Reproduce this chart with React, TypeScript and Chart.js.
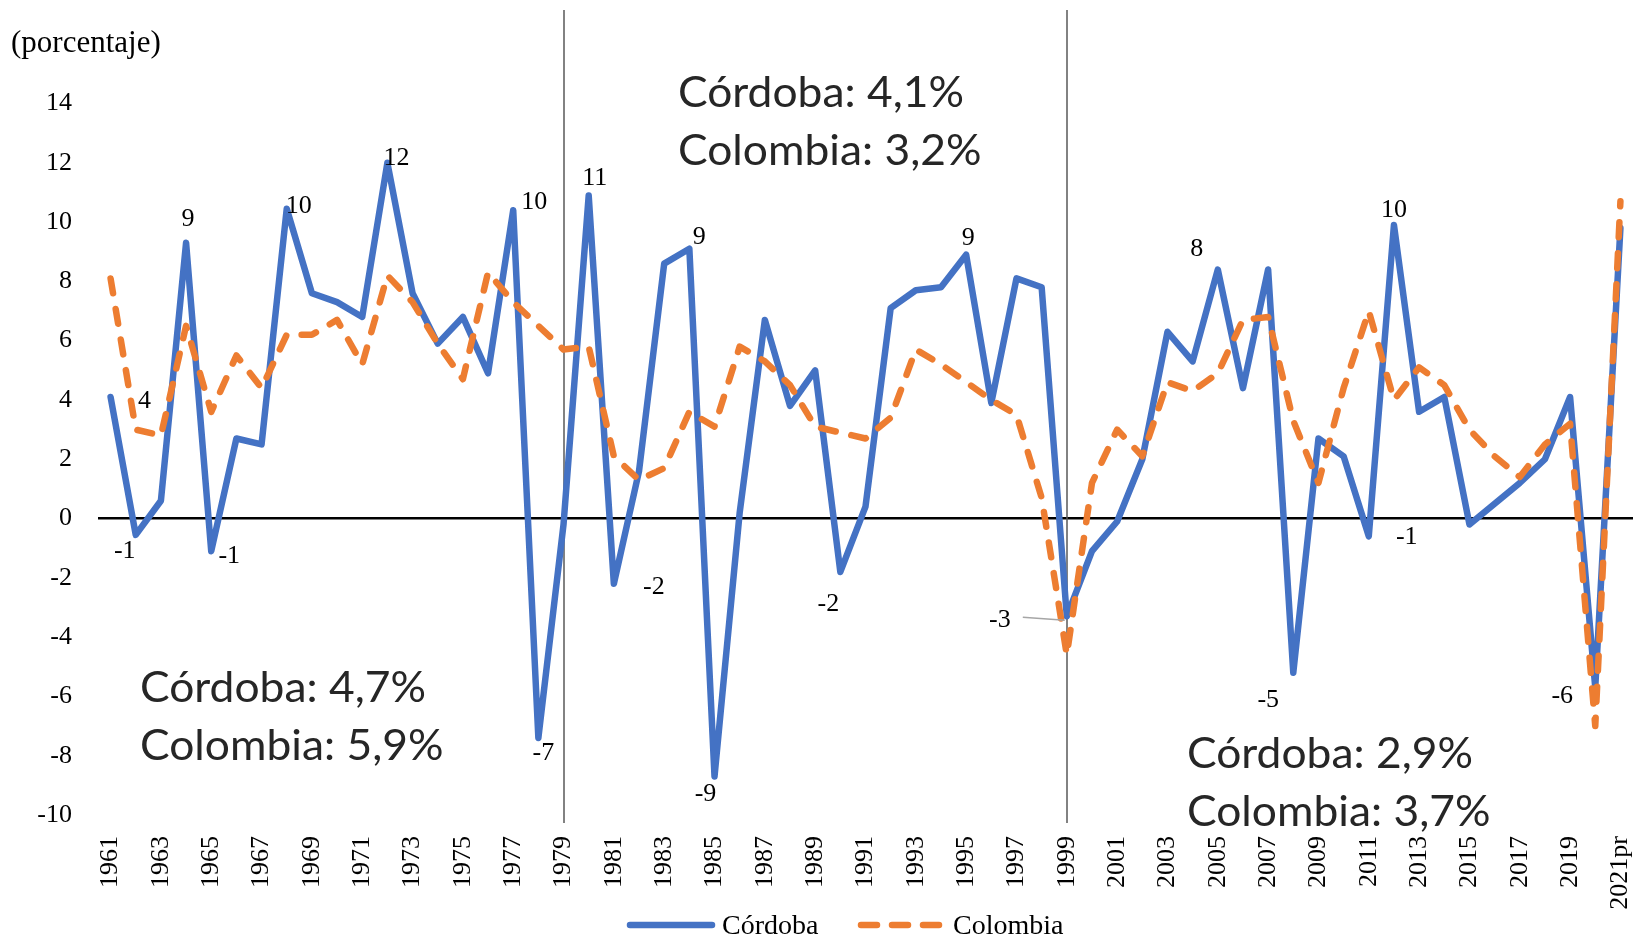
import React, { useEffect, useRef } from 'react';
import { Chart, registerables } from 'chart.js';

Chart.register(...registerables);

// ---------------- data ----------------
const years = [
  '1961', '1962', '1963', '1964', '1965', '1966', '1967', '1968', '1969', '1970',
  '1971', '1972', '1973', '1974', '1975', '1976', '1977', '1978', '1979', '1980',
  '1981', '1982', '1983', '1984', '1985', '1986', '1987', '1988', '1989', '1990',
  '1991', '1992', '1993', '1994', '1995', '1996', '1997', '1998', '1999', '2000',
  '2001', '2002', '2003', '2004', '2005', '2006', '2007', '2008', '2009', '2010',
  '2011', '2012', '2013', '2014', '2015', '2016', '2017', '2018', '2019', '2020',
  '2021pr',
];

const cordoba = [
  4.1, -0.55, 0.6, 9.3, -1.1, 2.7, 2.5, 10.45, 7.6, 7.3,
  6.8, 12.0, 7.6, 5.9, 6.8, 4.9, 10.4, -7.4, -0.2, 10.9,
  -2.2, 1.6, 8.6, 9.1, -8.7, 0.2, 6.7, 3.8, 5.0, -1.8,
  0.4, 7.1, 7.7, 7.8, 8.9, 3.9, 8.1, 7.8, -3.3, -1.1,
  -0.1, 2.0, 6.3, 5.3, 8.4, 4.4, 8.4, -5.2, 2.7, 2.1,
  -0.6, 9.9, 3.6, 4.1, -0.2, 0.5, 1.2, 2.0, 4.1, -5.7, 9.8,
];

const colombia = [
  8.1, 3.0, 2.8, 6.5, 3.6, 5.5, 4.4, 6.2, 6.2, 6.7,
  5.2, 8.2, 7.3, 5.9, 4.7, 8.3, 7.3, 6.5, 5.7, 5.8,
  2.1, 1.3, 1.7, 3.6, 3.1, 5.8, 5.3, 4.5, 3.1, 2.9,
  2.7, 3.4, 5.7, 5.2, 4.6, 4.0, 3.5, 0.7, -4.6, 1.2,
  3.0, 2.1, 4.6, 4.3, 4.9, 6.7, 6.8, 3.3, 1.2, 4.4,
  7.0, 4.0, 5.1, 4.5, 3.0, 2.1, 1.4, 2.5, 3.2, -7.0, 10.7,
];

const seriesNames = ['Córdoba', 'Colombia'];
const breakYears = ['1979', '1999'];
const yAxisTitle = '(porcentaje)';

// labelled Córdoba points: [index, dx, dy] (label placement relative to the point)
const cordobaLabels: [number, number, number][] = [
  [0, 34, 4], [1, -11, 16], [3, 2, -24], [4, 18, 5], [7, 12, -3],
  [11, 9, -5], [16, 21, -8], [17, 5, 15], [19, 6, -17], [20, 40, 3],
  [23, 10, -12], [24, -9, 18], [29, -12, 32], [34, 2, -17], [38, -67, 4],
  [44, -21, -20], [47, -25, 27], [50, 38, 1], [51, 0, -15], [59, -33, 9],
];
const leaderIndex = 38;

const periodNotes = [
  { lines: ['Córdoba: 4,7%', 'Colombia: 5,9%'], x: 140, y: 702 },
  { lines: ['Córdoba: 4,1%', 'Colombia: 3,2%'], x: 678, y: 107 },
  { lines: ['Córdoba: 2,9%', 'Colombia: 3,7%'], x: 1187, y: 768 },
];

// ---------------- styles ----------------
const BLUE = '#4472C4';
const ORANGE = '#ED7D31';
const SERIF = '"Liberation Serif", "Times New Roman", serif';
const W = 1637;
const H = 939;

function excelRound(v: number): string {
  const r = Math.sign(v) * Math.round(Math.abs(v));
  return String(r === 0 ? 0 : r);
}

const overlay = {
  id: 'overlay',
  beforeDatasetsDraw(chart: any) {
    const { ctx } = chart;
    const xs = chart.scales.x;
    ctx.save();
    ctx.strokeStyle = '#595959';
    ctx.lineWidth = 1.5;
    for (const yr of breakYears) {
      const px = Math.round(xs.getPixelForValue(years.indexOf(yr)));
      ctx.beginPath();
      ctx.moveTo(px, 10);
      ctx.lineTo(px, 823);
      ctx.stroke();
    }
    ctx.restore();
  },
  afterDatasetsDraw(chart: any) {
    const { ctx } = chart;
    ctx.save();

    // y axis title
    ctx.fillStyle = '#000';
    ctx.font = `31px ${SERIF}`;
    ctx.textAlign = 'left';
    ctx.textBaseline = 'middle';
    ctx.fillText(yAxisTitle, 11, 44);

    // data labels
    const meta = chart.getDatasetMeta(0);
    ctx.font = `26px ${SERIF}`;
    ctx.textAlign = 'center';
    ctx.textBaseline = 'middle';
    for (const [i, dx, dy] of cordobaLabels) {
      const p = meta.data[i];
      ctx.fillText(excelRound(cordoba[i]), p.x + dx, p.y + dy);
    }
    // leader line for 1999 label
    const lp = meta.data[leaderIndex];
    ctx.strokeStyle = '#A6A6A6';
    ctx.lineWidth = 1.5;
    ctx.beginPath();
    ctx.moveTo(lp.x - 44, lp.y + 1);
    ctx.lineTo(lp.x - 2, lp.y + 4);
    ctx.stroke();

    // period notes
    ctx.fillStyle = '#262626';
    ctx.textAlign = 'left';
    ctx.textBaseline = 'alphabetic';
    ctx.font = '42px Lato';
    const sx = 286 / ctx.measureText('Córdoba: 4,1%').width;
    for (const note of periodNotes) {
      note.lines.forEach((line, k) => {
        ctx.save();
        ctx.translate(note.x, note.y + k * 58);
        ctx.scale(sx, 1);
        ctx.fillText(line, 0, 0);
        ctx.restore();
      });
    }

    // legend
    const ly = 925;
    ctx.lineCap = 'round';
    ctx.lineWidth = 6.5;
    ctx.strokeStyle = BLUE;
    ctx.setLineDash([]);
    ctx.beginPath();
    ctx.moveTo(630, ly);
    ctx.lineTo(712, ly);
    ctx.stroke();
    ctx.strokeStyle = ORANGE;
    ctx.setLineDash([16, 15]);
    ctx.beginPath();
    ctx.moveTo(861, ly);
    ctx.lineTo(939, ly);
    ctx.stroke();
    ctx.setLineDash([]);
    ctx.fillStyle = '#000';
    ctx.font = `28px ${SERIF}`;
    ctx.textBaseline = 'alphabetic';
    ctx.fillText(seriesNames[0], 722, 934);
    ctx.fillText(seriesNames[1], 953, 934);

    ctx.restore();
  },
};

export default function App() {
  const ref = useRef<HTMLCanvasElement | null>(null);

  useEffect(() => {
    if (!ref.current) return;
    const chart = new Chart(ref.current, {
      type: 'line',
      data: {
        labels: years,
        datasets: [
          {
            label: seriesNames[0],
            data: cordoba,
            borderColor: BLUE,
            backgroundColor: BLUE,
            borderWidth: 6.5,
            pointRadius: 0,
            tension: 0,
            borderJoinStyle: 'round',
            borderCapStyle: 'round',
            order: 2,
          },
          {
            label: seriesNames[1],
            data: colombia,
            borderColor: ORANGE,
            backgroundColor: ORANGE,
            borderWidth: 6.5,
            borderDash: [15, 16],
            borderCapStyle: 'round',
            borderJoinStyle: 'round',
            pointRadius: 0,
            tension: 0,
            order: 1,
          },
        ],
      },
      options: {
        animation: false,
        responsive: false,
        devicePixelRatio: 1,
        events: [],
        layout: { padding: { top: 103.5, right: 4, left: 0, bottom: 0 } },
        plugins: {
          legend: { display: false },
          tooltip: { enabled: false },
          title: { display: false },
        },
        scales: {
          x: {
            type: 'category',
            offset: true,
            grid: { display: false, drawTicks: false },
            border: { display: false },
            ticks: {
              autoSkip: false,
              minRotation: 90,
              maxRotation: 90,
              padding: 21,
              color: '#000',
              font: { family: SERIF, size: 26 },
              callback: function (this: any, v: any, i: number) {
                return i % 2 === 0 ? years[i] : '';
              },
            },
            afterFit: (s: any) => {
              s.height = H - 815;
              s.paddingLeft = 0;
              s.paddingRight = 0;
            },
          },
          y: {
            min: -10,
            max: 14,
            border: { display: false },
            grid: {
              drawTicks: false,
              lineWidth: 2.5,
              color: (c: any) => (c.tick && c.tick.value === 0 ? '#000' : 'rgba(0,0,0,0)'),
            },
            ticks: {
              stepSize: 2,
              padding: 26,
              color: '#000',
              font: { family: SERIF, size: 26 },
            },
            afterFit: (s: any) => {
              s.width = 98;
              s.paddingTop = 0;
              s.paddingBottom = 0;
            },
          },
        },
      } as any,
      plugins: [overlay],
    });
    return () => chart.destroy();
  }, []);

  return (
    <div style={{ position: 'absolute', left: 0, top: 0, width: W, height: H, background: '#fff' }}>
      <canvas ref={ref} width={W} height={H} style={{ display: 'block' }} />
    </div>
  );
}
